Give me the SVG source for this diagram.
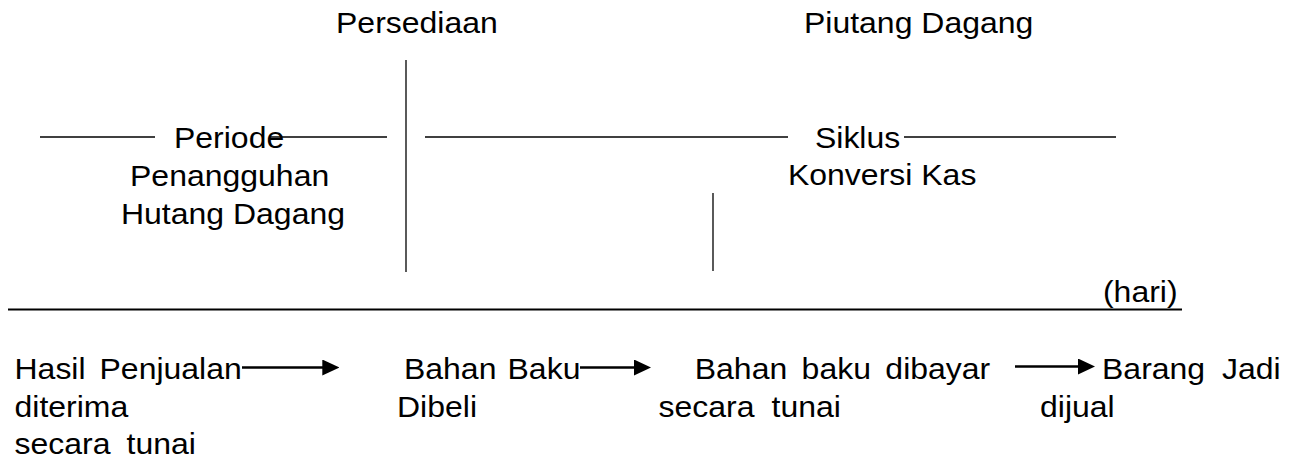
<svg xmlns="http://www.w3.org/2000/svg" width="1295" height="459" viewBox="0 0 1295 459">
  <style>
    text { font-family: "Liberation Sans", Arial, sans-serif; font-size: 30px; fill: #000; }
    .thin { stroke: #000; stroke-width: 1.3; fill: none; }
    .axis { stroke: #000; stroke-width: 2.2; fill: none; }
    .flow { stroke: #000; stroke-width: 2.5; fill: none; marker-end: url(#head); }
  </style>
  <defs>
    <marker id="head" viewBox="0 0 17 16" refX="13" refY="8" markerWidth="17" markerHeight="16" markerUnits="userSpaceOnUse" orient="auto">
      <path d="M0,0 L17,8 L0,16 Z" fill="#000"/>
    </marker>
  </defs>

  <rect width="1295" height="459" fill="#fff"/>

  <!-- connectors: period bars, dividers, time axis and flow arrows -->
  <g id="connectors">
    <line class="thin" x1="40" y1="137" x2="155" y2="137"/>
    <line class="thin" x1="269" y1="137" x2="387" y2="137"/>
    <line class="thin" x1="425" y1="137" x2="788" y2="137"/>
    <line class="thin" x1="904" y1="137" x2="1116" y2="137"/>
    <line class="thin" x1="406" y1="60" x2="406" y2="272"/>
    <line class="thin" x1="713" y1="193" x2="713" y2="271"/>
    <line class="axis" x1="8" y1="309.5" x2="1182" y2="309.5"/>
    <line class="flow" x1="242" y1="367.5" x2="335.3" y2="367.5"/>
    <line class="flow" x1="580" y1="367.5" x2="647" y2="367.5"/>
    <line class="flow" x1="1015" y1="366.5" x2="1091" y2="366.5"/>
  </g>

  <!-- labels use a slightly widened face: x values are divided by 1.0667 -->
  <g transform="scale(1.0667 1)">
    <g id="persediaan"><text x="315" y="33.5">Persediaan</text></g>
    <g id="piutang-dagang"><text x="753.7" y="33.5">Piutang Dagang</text></g>

    <g id="periode-penangguhan">
      <text x="163.1" y="148">Periode</text>
      <text x="121.9" y="186">Penangguhan</text>
      <text x="113.4" y="224">Hutang Dagang</text>
    </g>

    <g id="siklus-konversi">
      <text x="764" y="148">Siklus</text>
      <text x="738.7" y="185.5">Konversi Kas</text>
    </g>

    <g id="satuan"><text x="1034" y="302">(hari)</text></g>

    <g id="hasil-penjualan">
      <text x="13.6" y="379.5">Hasil</text>
      <text x="93.3" y="379.5">Penjualan</text>
      <text x="13.6" y="417">diterima</text>
      <text x="13.6" y="454.5">secara</text>
      <text x="118.6" y="454.5">tunai</text>
    </g>

    <g id="bahan-baku-dibeli">
      <text x="378.7" y="379.5">Bahan</text>
      <text x="475.8" y="379.5">Baku</text>
      <text x="372.2" y="417">Dibeli</text>
    </g>

    <g id="bahan-baku-dibayar">
      <text x="651.3" y="379.5">Bahan</text>
      <text x="751.5" y="379.5">baku</text>
      <text x="830" y="379.5">dibayar</text>
      <text x="617.3" y="417">secara</text>
      <text x="723.3" y="417">tunai</text>
    </g>

    <g id="barang-jadi">
      <text x="1033.1" y="379.5">Barang</text>
      <text x="1145.6" y="379.5">Jadi</text>
      <text x="975" y="417">dijual</text>
    </g>
  </g>
</svg>
